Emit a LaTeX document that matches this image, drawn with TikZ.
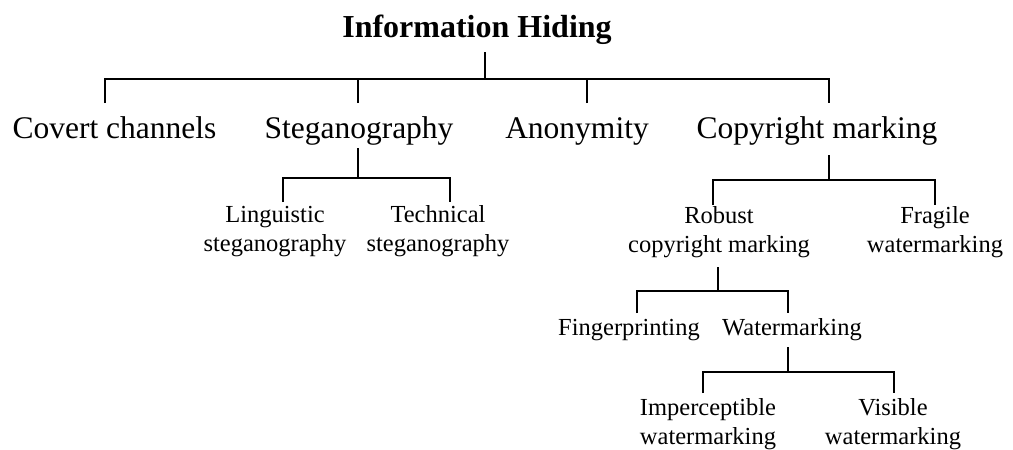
\documentclass[tikz,border=0pt]{standalone}
\usepackage{fontspec}
\setmainfont{Liberation Serif}
\begin{document}
\begin{tikzpicture}[x=1pt,y=-1pt,
  tree/.style={line width=1.7pt},
  lbl/.style={inner sep=0pt,anchor=base,align=center},
  big/.style={lbl,font=\fontsize{31.5}{36}\selectfont},
  small/.style={lbl,font=\fontsize{24.5}{28.5}\selectfont}]
\useasboundingbox (0,0) rectangle (1013,450);
% nodes (base anchor of a multi-line node = last line's baseline)
\node[lbl,font=\fontsize{32}{36}\selectfont\bfseries] (root) at (477,37) {Information Hiding};
\node[big] (cov) at (114.5,138) {Covert channels};
\node[big] (stg) at (359,138) {Steganography};
\node[big] (ano) at (577,138) {Anonymity};
\node[big] (cop) at (817,138) {Copyright marking};
\node[small] (lin) at (275,251) {Linguistic\\steganography};
\node[small] (tec) at (438,251) {Technical\\steganography};
\node[small] (rob) at (719,252) {Robust\\copyright marking};
\node[small] (fra) at (935,252) {Fragile\\watermarking};
\node[small] (fin) at (629,335) {Fingerprinting};
\node[small] (wat) at (792,335) {Watermarking};
\node[small] (imp) at (708,444) {Imperceptible\\watermarking};
\node[small] (vis) at (893,444) {Visible\\watermarking};
% junction coordinates
\coordinate (root-s) at (485,52);
\coordinate (root-j) at (485,79);
\coordinate (cov-n) at (105,103);
\coordinate (stg-n) at (358,103);
\coordinate (ano-n) at (587,103);
\coordinate (cop-n) at (829,103);
\coordinate (stg-s) at (358,148);
\coordinate (stg-j) at (358,178);
\coordinate (lin-n) at (283,202);
\coordinate (tec-n) at (450,202);
\coordinate (cop-s) at (829,155);
\coordinate (cop-j) at (829,180);
\coordinate (rob-n) at (713,205);
\coordinate (fra-n) at (935,205);
\coordinate (rob-s) at (718,267);
\coordinate (rob-j) at (718,291);
\coordinate (fin-n) at (637,313);
\coordinate (wat-n) at (788,313);
\coordinate (wat-s) at (788,347);
\coordinate (wat-j) at (788,372);
\coordinate (imp-n) at (703,393);
\coordinate (vis-n) at (894,393);
% connectors
\draw[tree] (root-s) -- (root-j);
\draw[tree] (cov-n) |- (cop-n |- root-j) -- (cop-n);
\draw[tree] (stg-n) -- (stg-n |- root-j);
\draw[tree] (ano-n) -- (ano-n |- root-j);
\draw[tree] (stg-s) -- (stg-j);
\draw[tree] (lin-n) |- (tec-n |- stg-j) -- (tec-n);
\draw[tree] (cop-s) -- (cop-j);
\draw[tree] (rob-n) |- (fra-n |- cop-j) -- (fra-n);
\draw[tree] (rob-s) -- (rob-j);
\draw[tree] (fin-n) |- (wat-n |- rob-j) -- (wat-n);
\draw[tree] (wat-s) -- (wat-j);
\draw[tree] (imp-n) |- (vis-n |- wat-j) -- (vis-n);
\end{tikzpicture}
\end{document}
